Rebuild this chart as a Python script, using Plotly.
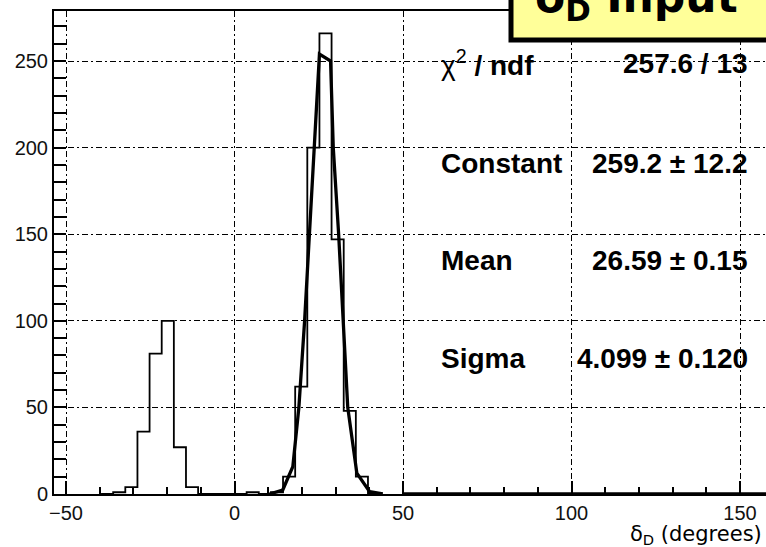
import plotly.graph_objects as go

# ---- data ----
bin_edges = [-39.6, -36.0, -32.4, -28.8, -25.2, -21.6, -18.0, -14.4, -10.8, -7.2, -3.6,
             0.0, 3.6, 7.2, 10.8, 14.4, 18.0, 21.6, 25.2, 28.8, 32.4, 36.0, 39.6, 43.2]
counts = [0, 1, 4, 36, 81, 100, 27, 4, 0, 0, 0,
          0, 1, 0, 1, 10, 62, 200, 266, 147, 48, 10, 0]

fit_x = [10.4, 14.3, 17.3, 19.1, 20.8, 22.3, 23.8, 25.2, 28.5, 29.3, 30.9, 32.2, 33.6, 36.3, 40.1, 44.0, None, 50.0, 157.7]
fit_y = [0.0, 2.3, 15.8, 50.0, 100.0, 150.0, 200.0, 254.0, 250.0, 200.0, 150.0, 100.0, 50.0, 12.0, 1.3, 0.0, None, 0.0, 0.0]

x_ticks = [-50, 0, 50, 100, 150]
y_ticks = [0, 50, 100, 150, 200, 250]

stat_names = ["χ<sup>2</sup> <b>/ ndf</b>", "<b>Constant</b>", "<b>Mean</b>", "<b>Sigma</b>"]
stat_values = ["<b>257.6 / 13</b>", "<b>259.2 ± 12.2</b>", "<b>26.59 ± 0.15</b>", "<b>4.099 ± 0.120</b>"]

x_range = [-53.56, 157.7]
y_range = [0, 278.9]

W, H = 766, 547
L, R, T, B = 54, 0, 11, 53
PW, PH = W - L - R, H - T - B


def px(x):
    return (x - L) / PW


def py(y):
    return (H - B - y) / PH


fig = go.Figure()
fig.add_trace(go.Scatter(
    x=bin_edges, y=counts + [counts[-1]], mode="lines",
    line=dict(shape="hv", color="black", width=1.8), hoverinfo="skip"))
fig.add_trace(go.Scatter(
    x=fit_x, y=fit_y, mode="lines", connectgaps=False,
    line=dict(color="black", width=3.3), hoverinfo="skip"))

grid_dash = "6px,3px,2px,3px"
fig.update_xaxes(
    range=x_range, tickmode="array", tickvals=x_ticks,
    ticks="inside", ticklen=13, tickwidth=1.5, tickcolor="black",
    showgrid=True, gridcolor="black", gridwidth=1, griddash=grid_dash,
    showline=True, linecolor="black", linewidth=2, mirror=True, zeroline=False,
    minor=dict(dtick=10, tick0=0, ticks="inside", ticklen=7, tickwidth=1.5, tickcolor="black", showgrid=False),
    tickfont=dict(family="Liberation Sans, Arial", size=20, color="#111"),
)
fig.update_yaxes(
    range=y_range, tickmode="array", tickvals=y_ticks,
    ticks="inside", ticklen=12, tickwidth=1.5, tickcolor="black",
    showgrid=True, gridcolor="black", gridwidth=1, griddash=grid_dash,
    showline=True, linecolor="black", linewidth=2, mirror=False, zeroline=False,
    minor=dict(dtick=10, tick0=0, ticks="inside", ticklen=12, tickwidth=1.5, tickcolor="black", showgrid=False),
    tickfont=dict(family="Liberation Sans, Arial", size=20, color="#111"),
)

annotations = []
rows_y = [63, 163, 260, 358]
for name, val, yy in zip(stat_names, stat_values, rows_y):
    annotations.append(dict(xref="paper", yref="paper", x=px(439), y=py(yy), text=name,
                            xanchor="left", yanchor="middle", showarrow=False,
                            font=dict(family="Liberation Sans, Arial", size=28, color="black")))
    annotations.append(dict(xref="paper", yref="paper", x=px(750), y=py(yy), text=val,
                            xanchor="right", yanchor="middle", showarrow=False,
                            font=dict(family="Liberation Sans, Arial", size=28, color="black")))

annotations.append(dict(xref="paper", yref="paper", x=px(764), y=py(535),
                        text="δ<sub>D</sub> (degrees)", xanchor="right", yanchor="middle",
                        showarrow=False,
                        font=dict(family="DejaVu Sans", size=21, color="black")))

annotations.append(dict(xref="paper", yref="paper", x=px(533), y=py(0),
                        text="<b>δ<sub>D</sub> Input</b>", xanchor="left", yanchor="middle",
                        showarrow=False,
                        font=dict(family="DejaVu Sans", size=44, color="black")))

shapes = [dict(type="rect", xref="paper", yref="paper", x0=px(511), x1=px(775), y0=py(40), y1=py(-10),
               line=dict(color="black", width=5), fillcolor="#ffff99", layer="above")]

fig.update_layout(
    width=W, height=H, margin=dict(l=L, r=R, t=T, b=B),
    paper_bgcolor="white", plot_bgcolor="white", showlegend=False,
    annotations=annotations, shapes=shapes,
)

fig.write_html("out.html")
